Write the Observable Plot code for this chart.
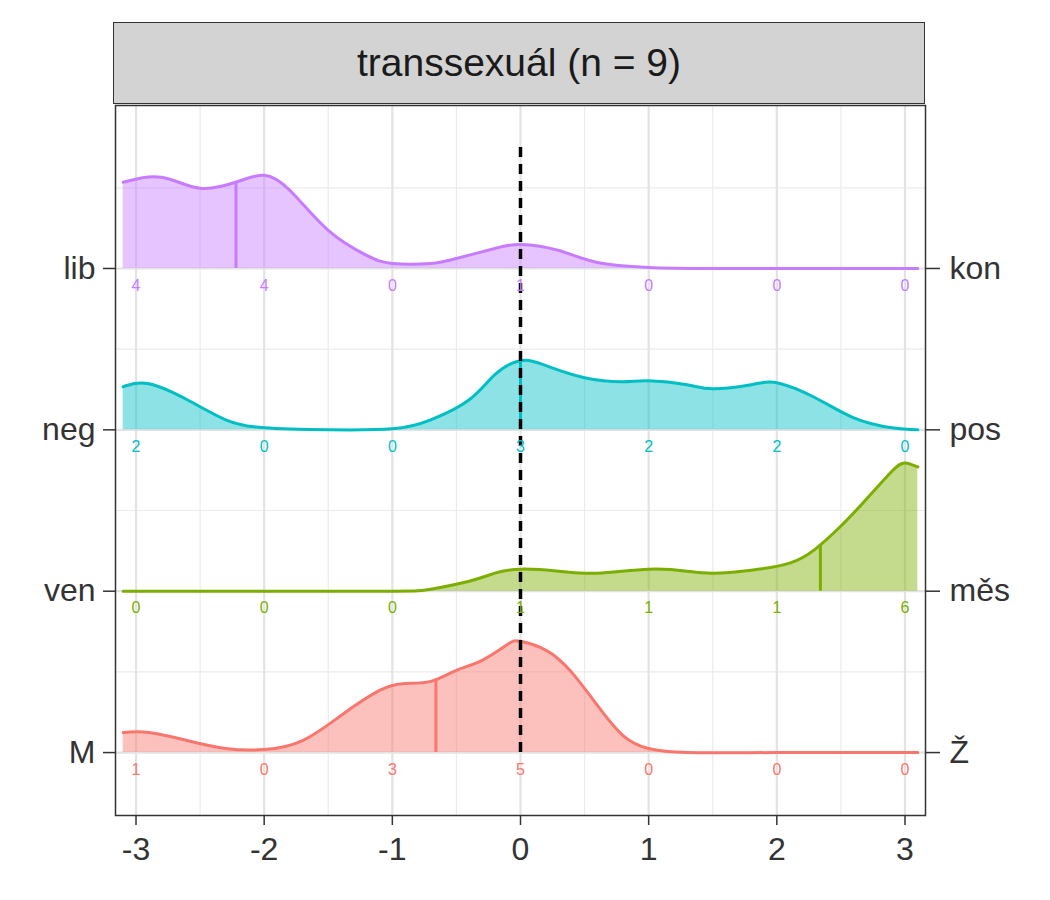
<!DOCTYPE html>
<html><head><meta charset="utf-8">
<script src="https://cdn.jsdelivr.net/npm/d3@7"></script>
<script src="https://cdn.jsdelivr.net/npm/@observablehq/plot@0.6"></script>
<style>
body{margin:0;background:#fff;font-family:Arial,"Liberation Sans",sans-serif;}
#strip{position:absolute;left:113px;top:22px;width:810px;height:80px;background:#d3d3d3;border:1.5px solid #333;
 display:flex;align-items:center;justify-content:center;font-size:39px;color:#1a1a1a;}
#Chart{position:absolute;left:0;top:104px;}
</style></head><body>
<div id="strip">transsexuál (n = 9)</div>
<div id="Chart"></div>
<script>
var leftLabels = ["M", "ven", "neg", "lib"];
var rightLabels = ["Ž", "měs", "pos", "kon"];
var colors = ["#F8766D", "#7CAE00", "#00BFC4", "#C77CFF"];
var medians = [-0.66, 2.34, 0, -2.22];
var counts = [
  [1, 0, 3, 5, 0, 0, 0],
  [0, 0, 0, 1, 1, 1, 6],
  [2, 0, 0, 3, 2, 2, 0],
  [4, 4, 0, 1, 0, 0, 0]
];
var countX = [-3, -2, -1, 0, 1, 2, 3];
// density heights (in px above each row)
var densX = [
  [-3.1,-2.9,-2.6,-2.3,-2,-1.7,-1.4,-1.1,-0.9,-0.7,-0.5,-0.3,-0.1,0,0.2,0.4,0.6,0.8,1,1.3,2,3.1],
  [-3.1,-2,-1,-0.7,-0.4,-0.2,0,0.3,0.6,1,1.3,1.5,1.8,2.1,2.3,2.5,2.7,2.9,3,3.1],
  [-3.1,-2.9,-2.6,-2.3,-2,-1.5,-1,-0.7,-0.4,-0.2,0,0.2,0.5,0.8,1,1.3,1.5,1.8,2,2.3,2.6,2.9,3.1],
  [-3.1,-2.8,-2.5,-2.2,-2,-1.8,-1.5,-1.2,-1,-0.7,-0.5,-0.2,0,0.3,0.6,1,1.5,3.1]
];
var densPx = [
  [20,20,12,4,3,12,37,62,69,71,82,92,108,111,102,80,47,17,4,0,0,0],
  [0,0,0,2,10,18,22,20,18,22,20,18,21,28,42,65,92,120,128,124],
  [43,46,30,10,2,0,1,10,30,55,69,64,52,48,49,45,41,45,47,32,12,2,0],
  [86,91,80,87,93,78,38,13,5,5,10,20,24,18,6,1,0,0]
];
var pxPerRow = 161;
var area = [], med = [], lbl = [];
for (var i = 0; i < 4; i++) {
  densX[i].forEach(function (x, j) {
    area.push({ k: i, x: x, y1: i + 1, y2: i + 1 + densPx[i][j] / pxPerRow });
  });
  var m = medians[i], xs = densX[i], hs = densPx[i], h = 0;
  for (var j = 0; j < xs.length - 1; j++) if (m >= xs[j] && m <= xs[j + 1]) h = hs[j] + (hs[j + 1] - hs[j]) * (m - xs[j]) / (xs[j + 1] - xs[j]);
  med.push({ k: i, x: m, y1: i + 1, y2: i + 1 + h / pxPerRow });
  countX.forEach(function (x, j) { lbl.push({ k: i, x: x, y: i + 1, t: String(counts[i][j]) }); });
}
var col = function (d) { return colors[d.k]; };
var opts = {
  width: 1050, height: 796,
  marginTop: 1, marginBottom: 85, marginLeft: 115, marginRight: 125,
  style: { background: "transparent", fontFamily: "Arial, 'Liberation Sans', sans-serif" },
  x: { domain: [-3.16, 3.16], label: null },
  y: { domain: [0.61, 5.01], label: null },
  marks: [
    Plot.gridX(d3.range(-3, 3.01, 0.5).filter(function (v) { return v % 1 !== 0; }), { stroke: "#ebebeb", strokeOpacity: 1, strokeWidth: 1.2 }),
    Plot.gridY([1.5, 2.5, 3.5, 4.5], { stroke: "#ebebeb", strokeOpacity: 1, strokeWidth: 1.2 }),
    Plot.gridX([-3, -2, -1, 0, 1, 2, 3], { stroke: "#e3e3e3", strokeOpacity: 1, strokeWidth: 2.2 }),
    Plot.gridY([1, 2, 3, 4], { stroke: "#e3e3e3", strokeOpacity: 1, strokeWidth: 2.2 }),
    Plot.areaY(area, { x: "x", y1: "y1", y2: "y2", z: "k", fill: col, fillOpacity: 0.45, curve: "natural" }),
    Plot.lineY(area, { x: "x", y: "y2", z: "k", stroke: col, strokeWidth: 3, curve: "natural" }),
    Plot.ruleX(med, { x: "x", y1: "y1", y2: "y2", stroke: col, strokeWidth: 3 }),
    Plot.ruleX([0], { y1: 1, y2: 4.78, stroke: "black", strokeWidth: 3.5, strokeDasharray: "10,7" }),
    Plot.text(lbl, { x: "x", y: "y", text: "t", fill: col, fontSize: 16, dy: 17 }),
    Plot.frame({ stroke: "#333", strokeWidth: 1.5 }),
    Plot.axisX([-3, -2, -1, 0, 1, 2, 3], { tickFormat: function (d) { return String(d).replace("−", "-"); }, fontSize: 32, tickSize: 10, tickPadding: 12, stroke: "#333", strokeWidth: 1.5, fill: "#333" }),
    Plot.axisY([1, 2, 3, 4], { anchor: "left", tickFormat: function (d) { return leftLabels[d - 1]; }, fontSize: 32, tickSize: 12, tickPadding: 8, stroke: "#333", strokeWidth: 1.5, fill: "#333" }),
    Plot.axisY([1, 2, 3, 4], { anchor: "right", tickFormat: function (d) { return rightLabels[d - 1]; }, fontSize: 32, tickSize: 14, tickPadding: 10, stroke: "#333", strokeWidth: 1.5, fill: "#333" })
  ]
};
document.getElementById("Chart").append(Plot.plot(opts));
</script>
</body></html>
